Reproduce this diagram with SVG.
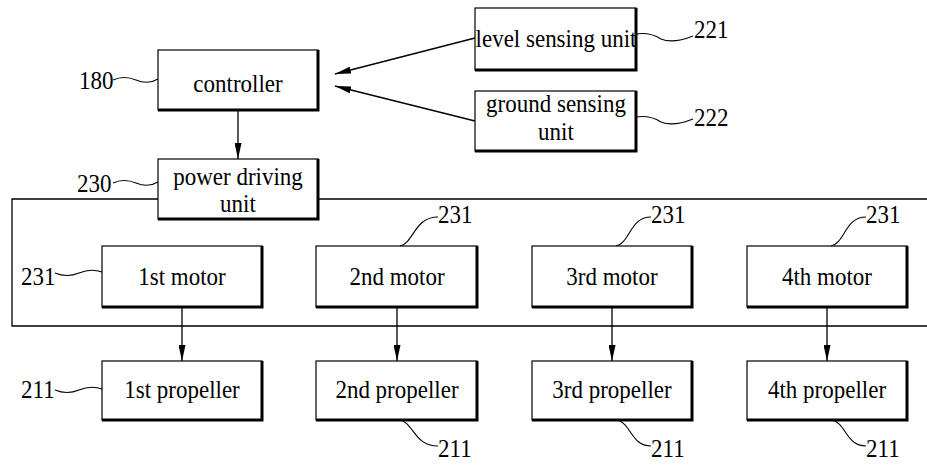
<svg xmlns="http://www.w3.org/2000/svg" width="927" height="467" viewBox="0 0 927 467">
<style>
text{font-family:"Liberation Serif","Times New Roman",serif;font-size:23px;fill:#000}
.c{text-anchor:middle}
.box{fill:#fff;stroke:#000;stroke-width:1.2}
.sh{fill:none;stroke:#000;stroke-width:3}
.ln{fill:none;stroke:#000;stroke-width:1.3}
.sq{fill:none;stroke:#000;stroke-width:1.1}
.ar{fill:none;stroke:#000;stroke-width:1.3;marker-end:url(#ah)}
</style>
<defs>
<marker id="ah" markerUnits="userSpaceOnUse" markerWidth="17" markerHeight="7" refX="16" refY="3.5" orient="auto">
<path d="M0,0 L16,3.5 L0,7 z" fill="#000"/>
</marker>
</defs>
<g id="frame">
<path class="ln" d="M158,199 H12 V326 H930 M318,199 H930"/>
</g>
<g id="connectors">
<path class="ar" d="M238,110 V159"/>
<path class="ar" d="M475,38 L335,74"/>
<path class="ar" d="M475,121 L335,86"/>
<path class="ar" d="M182,307 V361"/>
<path class="ar" d="M397,307 V361"/>
<path class="ar" d="M612,307 V361"/>
<path class="ar" d="M827,307 V361"/>
</g>
<g id="controller">
<rect class="box" x="158" y="50" width="160" height="60"/>
<path class="sh" d="M158,110 H318 V50"/>
<text class="c" transform="matrix(1 0 0 1.12 238 92)">controller</text>
<path class="sq" d="M113,80 q11,-5 23,0 t22,-1"/>
<text transform="matrix(1 0 0 1.12 79 89)">180</text>
</g>
<g id="power">
<rect class="box" x="158" y="159" width="160" height="60"/>
<path class="sh" d="M158,219 H318 V159"/>
<text class="c" transform="matrix(1 0 0 1.12 238 185)">power driving</text>
<text class="c" transform="matrix(1 0 0 1.12 238 212)">unit</text>
<path class="sq" d="M113,183 q11,-5 23,0 t22,-1"/>
<text transform="matrix(1 0 0 1.12 77 192)">230</text>
</g>
<g id="level">
<rect class="box" x="475" y="8" width="161" height="62"/>
<path class="sh" d="M475,70 H636 V8"/>
<text class="c" transform="matrix(1 0 0 1.12 556 47)">level sensing unit</text>
<path class="sq" d="M636,34 q14,-2 25,5 q12,5 32,-3"/>
<text transform="matrix(1 0 0 1.12 694 38)">221</text>
</g>
<g id="ground">
<rect class="box" x="475" y="91" width="161" height="60"/>
<path class="sh" d="M475,151 H636 V91"/>
<text class="c" transform="matrix(1 0 0 1.12 556 112)">ground sensing</text>
<text class="c" transform="matrix(1 0 0 1.12 556 140)">unit</text>
<path class="sq" d="M636,117 q14,-2 25,5 q12,5 32,-3"/>
<text transform="matrix(1 0 0 1.12 694 126)">222</text>
</g>
<g id="motor1">
<rect class="box" x="102" y="246" width="160" height="61"/>
<path class="sh" d="M102,307 H262 V246"/>
<text class="c" transform="matrix(1 0 0 1.12 182 285)">1st motor</text>
<path class="sq" d="M55,273 q12,5 24,0 t23,-1"/>
<text transform="matrix(1 0 0 1.12 21 285)">231</text>
</g>
<g id="motor2">
<rect class="box" x="316" y="246" width="161" height="61"/>
<path class="sh" d="M316,307 H477 V246"/>
<text class="c" transform="matrix(1 0 0 1.12 397 285)">2nd motor</text>
<path class="sq" d="M400,246 C414,243 414,217 438,217"/>
<text transform="matrix(1 0 0 1.12 438 223)">231</text>
</g>
<g id="motor3">
<rect class="box" x="532" y="246" width="160" height="61"/>
<path class="sh" d="M532,307 H692 V246"/>
<text class="c" transform="matrix(1 0 0 1.12 612 285)">3rd motor</text>
<path class="sq" d="M616,246 C630,243 630,217 651,217"/>
<text transform="matrix(1 0 0 1.12 651 223)">231</text>
</g>
<g id="motor4">
<rect class="box" x="747" y="246" width="160" height="61"/>
<path class="sh" d="M747,307 H907 V246"/>
<text class="c" transform="matrix(1 0 0 1.12 827 285)">4th motor</text>
<path class="sq" d="M831,246 C845,243 845,217 866,217"/>
<text transform="matrix(1 0 0 1.12 866 223)">231</text>
</g>
<g id="prop1">
<rect class="box" x="102" y="361" width="160" height="59"/>
<path class="sh" d="M102,420 H262 V361"/>
<text class="c" transform="matrix(1 0 0 1.12 182 398)">1st propeller</text>
<path class="sq" d="M55,390 q12,5 24,0 t23,-1"/>
<text transform="matrix(1 0 0 1.12 21 398)">211</text>
</g>
<g id="prop2">
<rect class="box" x="316" y="361" width="161" height="59"/>
<path class="sh" d="M316,420 H477 V361"/>
<text class="c" transform="matrix(1 0 0 1.12 397 398)">2nd propeller</text>
<path class="sq" d="M400,420 C414,423 414,446 438,446"/>
<text transform="matrix(1 0 0 1.12 438 457)">211</text>
</g>
<g id="prop3">
<rect class="box" x="532" y="361" width="160" height="59"/>
<path class="sh" d="M532,420 H692 V361"/>
<text class="c" transform="matrix(1 0 0 1.12 612 398)">3rd propeller</text>
<path class="sq" d="M617,420 C631,423 631,446 651,446"/>
<text transform="matrix(1 0 0 1.12 651 457)">211</text>
</g>
<g id="prop4">
<rect class="box" x="747" y="361" width="160" height="59"/>
<path class="sh" d="M747,420 H907 V361"/>
<text class="c" transform="matrix(1 0 0 1.12 827 398)">4th propeller</text>
<path class="sq" d="M832,420 C846,423 846,446 866,446"/>
<text transform="matrix(1 0 0 1.12 866 457)">211</text>
</g>
</svg>
